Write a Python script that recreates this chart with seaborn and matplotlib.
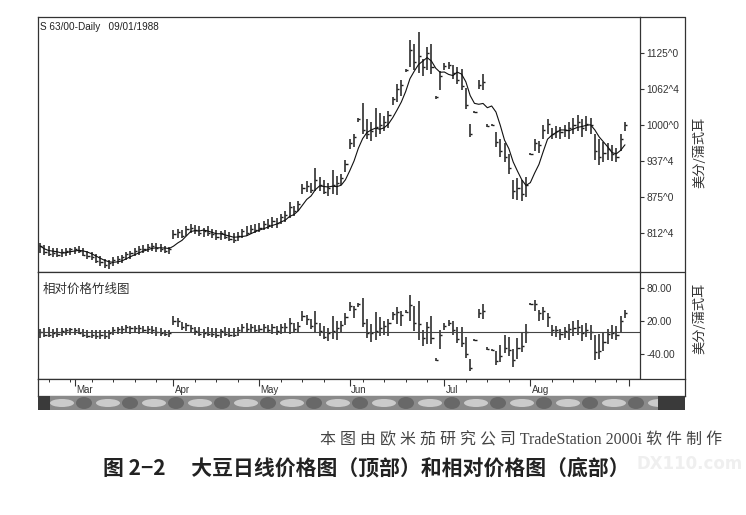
import numpy as np
import pandas as pd
import matplotlib
matplotlib.use("Agg")
import matplotlib.pyplot as plt
import matplotlib.transforms as mtransforms
from matplotlib.lines import Line2D
from matplotlib.patches import Rectangle, Ellipse
import seaborn as sns

# trading days, soybeans daily 1988
holidays = ["1988-04-01", "1988-05-30", "1988-07-04"]
dates = pd.bdate_range("1988-02-18", "1988-08-31")
dates = dates[~dates.isin(pd.to_datetime(holidays))]

# cents / bushel (feb .. aug)
high = [795, 792, 790, 787, 786, 784, 786, 787,
        789, 790, 786, 782, 780, 776, 772, 768, 766, 770, 772, 774, 780, 782, 786, 790, 792, 794, 796, 795, 793, 790, 788,
        818, 820, 818, 824, 828, 826, 825, 822, 824, 820, 818, 816, 818, 814, 812, 814, 820, 824, 826, 828,
        830, 834, 836, 840, 838, 846, 850, 866, 860, 868, 898, 902, 900, 926, 910, 904, 900, 922, 912, 915, 940,
        975, 985, 1012, 1038, 1010, 1005, 1030, 1020, 1015, 1025, 1048, 1072, 1078, 1098, 1148, 1140, 1162, 1115, 1135, 1140, 1050, 1094,
        1108, 1110, 1105, 1100, 1098, 1065, 1002, 1024, 1078, 1088, 1002, 1001, 988, 975, 968, 950, 905, 908, 905, 910,
        952, 975, 972, 1000, 1010, 995, 998, 996, 1000, 1005, 1012, 1018, 1010, 1015, 1012, 985, 975, 970, 968, 965, 960, 985, 1005]
low = [778, 775, 772, 770, 771, 770, 772, 774,
       776, 778, 772, 768, 766, 760, 756, 752, 750, 756, 758, 760, 765, 768, 772, 775, 778, 780, 782, 780, 779, 778, 776,
       802, 804, 803, 808, 812, 810, 808, 806, 808, 804, 800, 800, 802, 798, 796, 798, 804, 808, 810, 812,
       815, 818, 820, 822, 822, 828, 832, 838, 842, 850, 880, 884, 882, 886, 886, 880, 876, 880, 878, 895, 918,
       958, 962, 1005, 985, 975, 972, 980, 985, 990, 995, 1035, 1040, 1050, 1092, 1100, 1095, 1090, 1085, 1095, 1088, 1046, 1060,
       1096, 1098, 1080, 1072, 1060, 1028, 980, 1020, 1062, 1060, 996, 998, 962, 945, 935, 915, 872, 870, 868, 875,
       948, 955, 952, 975, 985, 975, 978, 976, 980, 975, 985, 990, 980, 990, 985, 940, 930, 935, 940, 938, 935, 955, 990]
close = [790, 780, 776, 778, 775, 780, 782, 785,
         784, 781, 775, 772, 770, 764, 762, 757, 760, 765, 768, 770, 776, 778, 782, 785, 784, 788, 790, 787, 785, 782, 784,
         810, 815, 808, 820, 822, 818, 812, 816, 812, 810, 806, 812, 806, 802, 800, 808, 816, 812, 820, 818,
         822, 828, 826, 834, 830, 840, 844, 858, 850, 862, 890, 894, 888, 904, 896, 884, 890, 895, 900, 908, 932,
         968, 980, 1010, 992, 985, 990, 996, 1000, 1005, 1018, 1045, 1062, 1070, 1095, 1130, 1110, 1120, 1100, 1125, 1100, 1048, 1085,
         1102, 1104, 1090, 1078, 1068, 1035, 985, 1022, 1070, 1075, 998, 1000, 970, 955, 945, 925, 885, 890, 880, 895,
         950, 968, 965, 992, 1002, 985, 990, 988, 992, 995, 1000, 1005, 995, 1002, 1000, 955, 945, 952, 958, 950, 945, 975, 1000]

price_ticks = [812.5, 875, 937.5, 1000, 1062.5, 1125]
price_labels = ["812^4", "875^0", "937^4", "1000^0", "1062^4", "1125^0"]
rel_ticks = [-40, 20, 80]
rel_labels = ["-40.00", "20.00", "80.00"]
month_names = ["Mar", "Apr", "May", "Jun", "Jul", "Aug"]

df = pd.DataFrame({"date": dates, "high": high, "low": low, "close": close})
df["idx"] = np.arange(len(df))
df["ma"] = df["close"].rolling(5, min_periods=1).mean()
# relative price = bar minus its moving average
df["rel_high"] = df["high"] - df["ma"]
df["rel_low"] = df["low"] - df["ma"]
df["rel_close"] = df["close"] - df["ma"]

month_idx = list(df.groupby(df["date"].dt.month)["idx"].min().loc[3:8]) + [len(df)]
monday_idx = list(df.loc[df["date"].dt.weekday == 0, "idx"])

sns.set_theme(style="white")
plt.rcParams["font.family"] = ["Liberation Sans", "Noto Sans CJK SC", "DejaVu Sans"]
cjk = ["Noto Sans CJK SC", "DejaVu Sans"]
ink = "#1c1c1c"

W, H = 746, 515
fig = plt.figure(figsize=(W / 100, H / 100), dpi=100, facecolor="white")


def box(x0, y0, x1, y1):
    return [x0 / W, 1 - y1 / H, (x1 - x0) / W, (y1 - y0) / H]


ax1 = fig.add_axes(box(38, 17, 640, 272))
ax2 = fig.add_axes(box(38, 272, 640, 379))
ax3 = fig.add_axes(box(38, 379, 685, 396))
ax4 = fig.add_axes(box(38, 396, 685, 410))

xlo, xhi = -0.5, 139.5
px_per_bar = (640 - 38) / (xhi - xlo)

# upper: price bars + moving average
ax1.vlines(df["idx"], df["low"], df["high"], color=ink, lw=1.1)
ax1.hlines(df["close"], df["idx"], df["idx"] + 0.5, color=ink, lw=1.0)
sns.lineplot(x=df["idx"], y=df["ma"], color="#111111", lw=0.8, ax=ax1)
ax1.set_xlim(xlo, xhi)
ax1.set_ylim(744.8, 1187.5)
ax1.set_yticks(price_ticks)
ax1.set_yticklabels(price_labels)
ax1.yaxis.tick_right()
ax1.set_xticks([])
ax1.set_xlabel("")
ax1.set_ylabel("")
ax1.text(0.004, 0.962, "S 63/00-Daily   09/01/1988", transform=ax1.transAxes,
         fontsize=7.2, va="center", ha="left", color="#222222")

# lower: relative price bars
ax2.vlines(df["idx"], df["rel_low"], df["rel_high"], color=ink, lw=1.1)
ax2.hlines(df["rel_close"], df["idx"], df["idx"] + 0.5, color=ink, lw=1.0)
ax2.axhline(0, color="#444444", lw=0.8)
ax2.set_xlim(xlo, xhi)
ax2.set_ylim(-86, 109)
ax2.set_yticks(rel_ticks)
ax2.set_yticklabels(rel_labels)
ax2.yaxis.tick_right()
ax2.set_xticks([])
ax2.text(0.007, 0.84, "相对价格竹线图", transform=ax2.transAxes, fontsize=9,
         va="center", ha="left", color="#333333", family=cjk)

for ax in (ax1, ax2):
    ax.set_facecolor("white")
    for s in ax.spines.values():
        s.set_color("#333333")
        s.set_linewidth(0.9)
    ax.tick_params(axis="y", which="major", right=True, left=False, direction="out",
                   length=3, width=0.8, pad=1.5, labelsize=7.3, colors="#333333")

# date strip
ax3.set_xlim(xlo, xlo + (685 - 38) / px_per_bar)
ax3.set_ylim(0, 1)
ax3.set_yticks([])
ax3.set_xticks(month_idx)
ax3.set_xticks(monday_idx, minor=True)
ax3.tick_params(axis="x", which="major", direction="in", top=True, bottom=False,
                labelbottom=False, length=5, width=0.8, color="#333333")
ax3.tick_params(axis="x", which="minor", direction="in", top=True, bottom=False,
                length=2.5, width=0.7, color="#333333")
trans = mtransforms.blended_transform_factory(ax3.transData, ax3.transAxes)
for i, name in zip(month_idx, month_names):
    ax3.text(i + 0.3, 0.36, name, transform=trans, fontsize=7, ha="left", va="center", color="#333333")
for s in ax3.spines.values():
    s.set_color("#333333")
    s.set_linewidth(0.9)

# scroll bar under the chart
ax4.set_xlim(0, 647)
ax4.set_ylim(0, 14)
ax4.set_facecolor("#8a8a8a")
ax4.set_xticks([])
ax4.set_yticks([])
for k in range(14):
    ax4.add_patch(Ellipse((24 + 46 * k, 7), 24, 8, color="#dcdcdc", alpha=0.8, lw=0))
    ax4.add_patch(Ellipse((46 + 46 * k, 7), 16, 12, color="#5a5a5a", alpha=0.7, lw=0))
ax4.add_patch(Rectangle((0, 0), 12, 14, color="#3a3a3a", lw=0))
ax4.add_patch(Rectangle((620, 0), 27, 14, color="#3a3a3a", lw=0))
for s in ax4.spines.values():
    s.set_visible(False)


# outer frame around the price scale column
def fline(x0, y0, x1, y1):
    fig.add_artist(Line2D([x0 / W, x1 / W], [1 - y0 / H, 1 - y1 / H],
                          transform=fig.transFigure, color="#333333", lw=0.9))


fline(640, 17, 685, 17)
fline(685, 17, 685, 379)
fline(640, 272, 685, 272)

# unit labels
fig.text(700 / W, 1 - 152 / H, "美分/蒲式耳", rotation=90, ha="center", va="center",
         fontsize=9.5, color="#333333", family=cjk)
fig.text(700 / W, 1 - 318 / H, "美分/蒲式耳", rotation=90, ha="center", va="center",
         fontsize=9.5, color="#333333", family=cjk)

# book captions
fig.text(722 / W, 1 - 440 / H, "本 图 由 欧 米 茄 研 究 公 司 TradeStation 2000i 软 件 制 作",
         ha="right", va="center", fontsize=11.5, color="#444444",
         family=["Liberation Serif", "Noto Sans CJK SC", "DejaVu Sans"])
fig.text(690 / W, 1 - 464 / H, "DX110.com", ha="center", va="center", fontsize=12,
         color="#efefef", weight="bold", family=["DejaVu Sans"])
fig.text(103 / W, 1 - 468 / H, "图 2−2　 大豆日线价格图（顶部）和相对价格图（底部）",
         ha="left", va="center", fontsize=15, weight="bold", color="#222222", family=cjk)

fig.savefig("out.png", dpi=100, facecolor="white")
